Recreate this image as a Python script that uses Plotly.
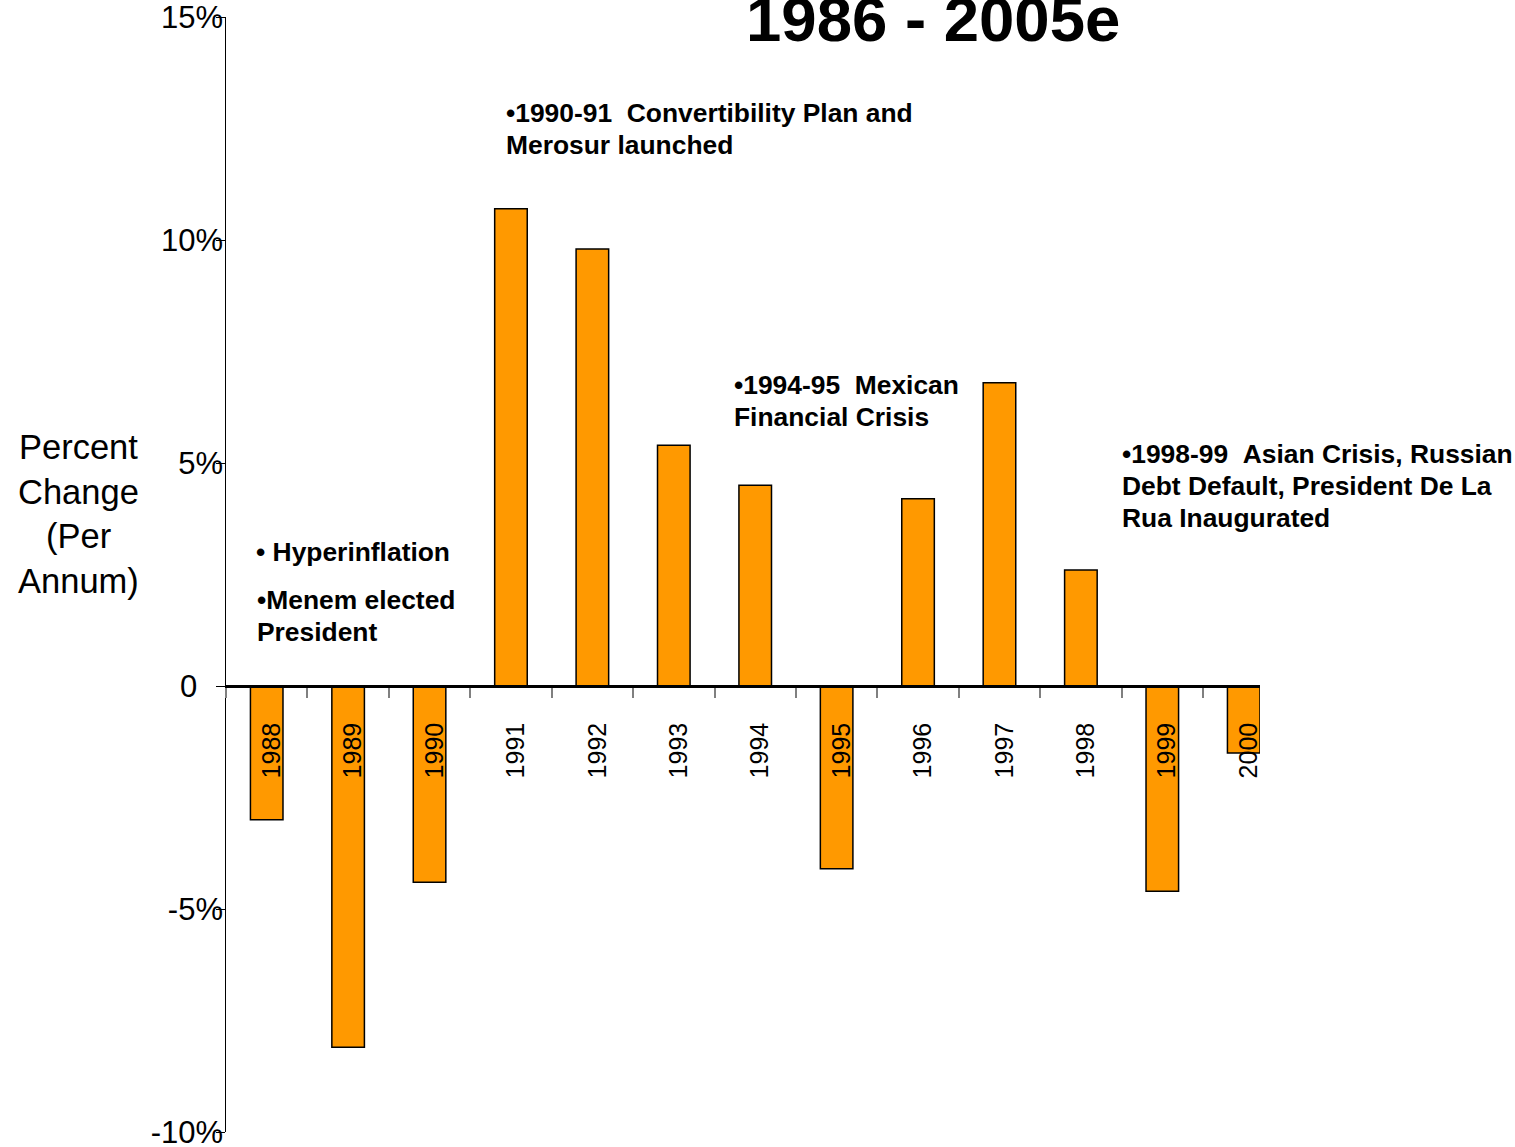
import plotly.graph_objects as go

# Annual real GDP growth, percent
years = ["1988", "1989", "1990", "1991", "1992", "1993", "1994",
         "1995", "1996", "1997", "1998", "1999", "2000"]
growth = [-3.0, -8.1, -4.4, 10.7, 9.8, 5.4, 4.5,
          -4.1, 4.2, 6.8, 2.6, -4.6, -1.5]

y_tick_vals = [-10, -5, 0, 5, 10, 15]
y_tick_text = ["-10%", "-5%", "0\u00a0\u00a0\u00a0", "5%", "10%", "15%"]

title_text = "1986 - 2005e"
y_label_lines = ["Percent", "Change", "(Per", "Annum)"]

# event notes: (lines, left px, centre px of first line)
notes = [
    (["\u20221990-91\u00a0\u00a0Convertibility Plan and", "Merosur launched"], 504, 113),
    (["\u20221994-95\u00a0\u00a0Mexican", "Financial Crisis"], 732, 385),
    (["\u20221998-99\u00a0\u00a0Asian Crisis, Russian", "Debt Default, President De La",
      "Rua Inaugurated"], 1120, 454),
    (["\u2022 Hyperinflation"], 254, 552),
    (["\u2022Menem elected", "President"], 255, 600),
]
note_line_gap = 32

W, H = 1515, 1147
L, T, B = 226, 17, 15
band = 81.4
x_range = [-0.5, 12.2]
plot_w = band * (x_range[1] - x_range[0])
R = W - L - plot_w
plot_h = H - T - B
y_range = [-10, 15]

FONT = "Arial, Liberation Sans"


def px_x(p):
    return (p - L) / plot_w


def px_y(p):
    return (H - B - p) / plot_h


fig = go.Figure()
fig.add_trace(go.Bar(
    x=years, y=growth, width=0.4,
    marker=dict(color="#FF9900", line=dict(color="black", width=1.5)),
    showlegend=False,
))
# empty trace so the overlay axis carrying the line and tick marks is rendered
fig.add_trace(go.Scatter(x=[], y=[], yaxis="y2", showlegend=False, hoverinfo="skip"))

annotations = [
    dict(text=title_text, xref="paper", yref="paper", x=px_x(933), y=px_y(19),
         xanchor="center", yanchor="middle", showarrow=False,
         font=dict(family=FONT, size=63.5, color="black", weight="bold")),
]
for i, line in enumerate(y_label_lines):
    annotations.append(dict(
        text=line, xref="paper", yref="paper", x=px_x(79), y=px_y(447 + i * 44.7),
        xanchor="center", yanchor="middle", showarrow=False,
        font=dict(family=FONT, size=34.5, color="black")))
for lines, left, first in notes:
    for k, line in enumerate(lines):
        annotations.append(dict(
            text=line, xref="paper", yref="paper", x=px_x(left),
            y=px_y(first + k * note_line_gap),
            xanchor="left", yanchor="middle", align="left", showarrow=False,
            font=dict(family=FONT, size=26.4, color="black", weight="bold")))

fig.update_layout(
    width=W, height=H,
    margin=dict(l=L, r=R, t=T, b=B, pad=0, autoexpand=False),
    paper_bgcolor="white", plot_bgcolor="white",
    annotations=annotations,
    xaxis=dict(
        type="category", range=x_range, automargin=False,
        anchor="free", position=(0 - y_range[0]) / (y_range[1] - y_range[0]),
        showline=True, linecolor="black", linewidth=2.5,
        ticks="outside", tickson="boundaries", ticklen=10, tickwidth=1.5,
        tickcolor="#808080",
        tickangle=-90, ticklabelstandoff=25, ticklabelshift=5,
        tickfont=dict(family=FONT, size=25, color="black"),
        showgrid=False, zeroline=False, layer="above traces",
    ),
    # value axis labels, set close to the axis line
    yaxis=dict(
        range=y_range, tickvals=y_tick_vals, ticktext=y_tick_text,
        automargin=False, anchor="free", position=0,
        showline=False, ticks="", ticklabelstandoff=3, ticklabeloverflow="allow",
        tickfont=dict(family=FONT, size=31, color="black"),
        showgrid=False, zeroline=False,
    ),
    # value axis line and tick marks
    yaxis2=dict(
        range=y_range, tickvals=y_tick_vals, overlaying="y", anchor="x",
        side="left", showticklabels=False, automargin=False,
        showline=True, linecolor="black", linewidth=1.2,
        ticks="outside", ticklen=9, tickwidth=1.2, tickcolor="black",
        showgrid=False, zeroline=False,
    ),
)

fig.write_html("out.html")
